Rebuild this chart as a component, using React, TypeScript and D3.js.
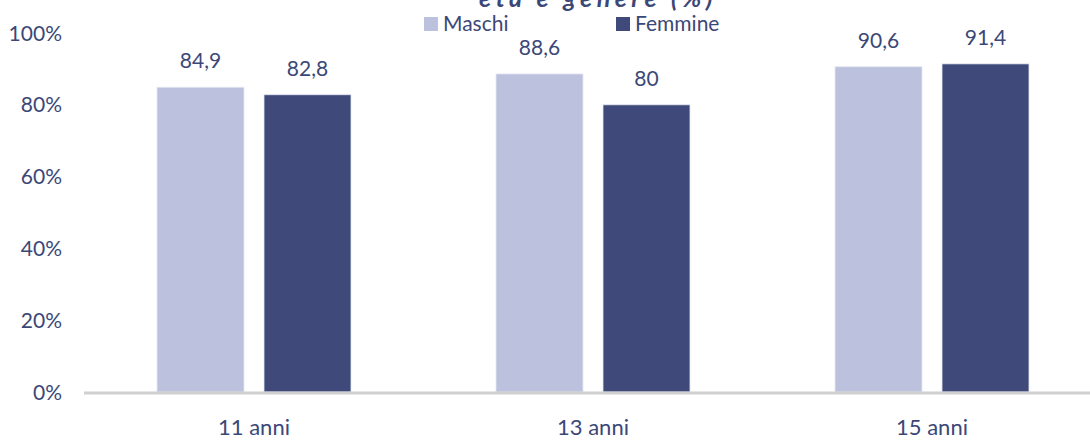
import React from "react";
import * as d3 from "d3";

const categories = ["11 anni", "13 anni", "15 anni"];
const seriesNames = ["Maschi", "Femmine"];
const maschi = [84.9, 88.6, 90.6];
const femmine = [82.8, 80, 91.4];
const maschiLabels = ["84,9", "88,6", "90,6"];
const femmineLabels = ["82,8", "80", "91,4"];
const yTicks = [0, 20, 40, 60, 80, 100];
const colors = ["#bcc1dd", "#3f4a7b"];

const W = 1090;
const H = 440;
const FONT = "Lato, 'Open Sans', sans-serif";
const TEXT = "#3b4877";

export default function App() {
  const x = d3.scaleBand().domain(categories).range([84.5, 1101.5]).paddingInner(0).paddingOuter(0);
  const y = d3.scaleLinear().domain([0, 100]).range([392, 33]);
  const barW = 87;
  const gap = 20;
  const series = [maschi, femmine];
  const labels = [maschiLabels, femmineLabels];

  return (
    <svg width={W} height={H} style={{ display: "block", position: "absolute", left: 0, top: 0 }}>
      <rect width={W} height={H} fill="#fff" />
      <text x={598} y={7} textAnchor="middle" fontFamily={FONT} fontStyle="italic" fontWeight="bold" fontSize={25} letterSpacing={4.5} fill={TEXT}>
        età e genere (%)
      </text>
      {seriesNames.map((s, i) => (
        <g key={s}>
          <rect x={424 + i * 192} y={17} width={14} height={14} fill={colors[i]} />
          <text x={443 + i * 192} y={31} fontFamily={FONT} fontSize={21} fill={TEXT}>{s}</text>
        </g>
      ))}
      {yTicks.map((t) => (
        <text key={t} x={62} y={y(t) + 7.5} textAnchor="end" fontFamily={FONT} fontSize={21} fill={TEXT}>
          {t}%
        </text>
      ))}
      {categories.map((c, ci) => {
        const cx = (x(c) as number) + x.bandwidth() / 2;
        return (
          <g key={c}>
            {series.map((vals, si) => {
              const bx = si === 0 ? cx - gap / 2 - barW : cx + gap / 2;
              return (
                <g key={si}>
                  <rect x={bx} y={y(vals[ci])} width={barW} height={y(0) - y(vals[ci])} fill={colors[si]} stroke="#e6e8f2" strokeWidth={0.8} />
                  <text x={bx + barW / 2} y={y(vals[ci]) - 19} textAnchor="middle" fontFamily={FONT} fontSize={21} fill={TEXT}>
                    {labels[si][ci]}
                  </text>
                </g>
              );
            })}
            <text x={cx} y={435} textAnchor="middle" fontFamily={FONT} fontSize={22} fill={TEXT}>{c}</text>
          </g>
        );
      })}
      <line x1={84} x2={W} y1={393} y2={393} stroke="#d0d0d0" strokeWidth={3} />
    </svg>
  );
}
